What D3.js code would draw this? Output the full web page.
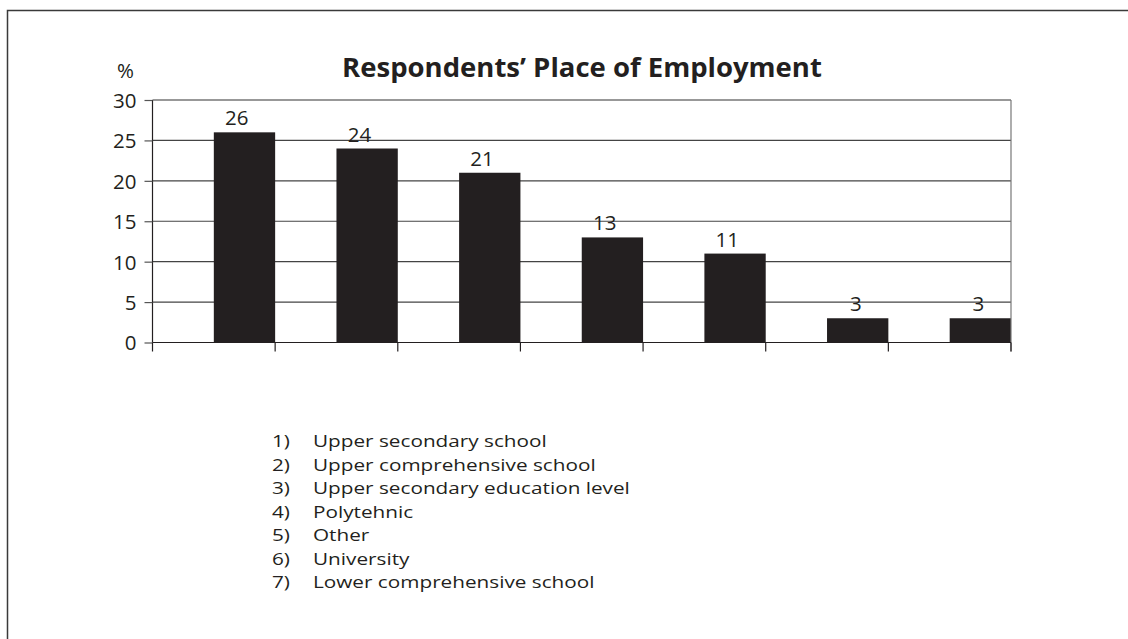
<!DOCTYPE html>
<html>
<head>
<meta charset="utf-8">
<script src="https://cdn.jsdelivr.net/npm/d3@7"></script>
<style>
  html, body { margin: 0; padding: 0; background: #fff; }
  svg { display: block; }
  text { font-family: "Open Sans", "Noto Sans", sans-serif; fill: #231f20; }
</style>
</head>
<body>
<svg id="chart" width="1128" height="639"></svg>
<script>
const categories = ["1", "2", "3", "4", "5", "6", "7"];
const values = [26, 24, 21, 13, 11, 3, 3];
const yTicks = [0, 5, 10, 15, 20, 25, 30];
const legendLabels = [
  "Upper secondary school",
  "Upper comprehensive school",
  "Upper secondary education level",
  "Polytehnic",
  "Other",
  "University",
  "Lower comprehensive school"
];
const title = "Respondents\u2019 Place of Employment";
const yUnit = "%";

const svg = d3.select("#chart");
const W = 1128, H = 639;
const plot = { left: 152.5, right: 1011, top: 100, bottom: 342.5 };
const FS = 20.5;

// outer frame
svg.append("rect")
  .attr("x", 7.5).attr("y", 10.5)
  .attr("width", W + 10).attr("height", H + 10)
  .attr("fill", "none").attr("stroke", "#3a3a3a").attr("stroke-width", 1.5);

const x = d3.scaleBand().domain(categories).range([plot.left, plot.right]).padding(0);
const y = d3.scaleLinear().domain([0, 30]).range([plot.bottom, plot.top]);

// gridlines
svg.append("g").selectAll("line")
  .data(yTicks.filter(t => t > 0 && t < 30))
  .join("line")
  .attr("x1", plot.left).attr("x2", plot.right)
  .attr("y1", d => y(d)).attr("y2", d => y(d))
  .attr("stroke", "#444").attr("stroke-width", 1.2);

// top border of plot
svg.append("line")
  .attr("x1", plot.left).attr("x2", plot.right)
  .attr("y1", y(30)).attr("y2", y(30))
  .attr("stroke", "#333").attr("stroke-width", 1.2);

// bars (right half of each band)
svg.append("g").selectAll("rect")
  .data(values)
  .join("rect")
  .attr("x", (d, i) => x(categories[i]) + x.bandwidth() / 2)
  .attr("y", d => y(d))
  .attr("width", x.bandwidth() / 2)
  .attr("height", d => y(0) - y(d))
  .attr("fill", "#231f20");

svg.append("line")
  .attr("x1", plot.right).attr("x2", plot.right)
  .attr("y1", y(30)).attr("y2", plot.bottom + 9)
  .attr("stroke", "#777").attr("stroke-width", 1.2);

// y axis
const yAxis = d3.axisLeft(y).tickValues(yTicks).tickSize(8).tickPadding(8);
const gy = svg.append("g").attr("transform", `translate(${plot.left},0)`).call(yAxis);
gy.attr("font-size", null).attr("font-family", null);
gy.select(".domain").attr("stroke", "#231f20").attr("stroke-width", 1.2).attr("d", `M0,${plot.top}V${plot.bottom}`);
gy.selectAll(".tick line").attr("stroke", "#555").attr("stroke-width", 1.2);
gy.selectAll(".tick text").style("font-size", FS + "px").attr("fill", "#231f20")
  .style("font-family", "'Open Sans', sans-serif").attr("dy", "0.36em");

// x axis: ticks at band boundaries, no labels
const xBounds = categories.map(c => x(c)).concat([plot.right]);
const gx = svg.append("g");
gx.append("line")
  .attr("x1", plot.left).attr("x2", plot.right)
  .attr("y1", y(0)).attr("y2", y(0))
  .attr("stroke", "#231f20").attr("stroke-width", 1.2);
gx.selectAll("line.t").data(xBounds).join("line").attr("class", "t")
  .attr("x1", d => d).attr("x2", d => d)
  .attr("y1", y(0)).attr("y2", y(0) + 9)
  .attr("stroke", "#231f20").attr("stroke-width", 1.2);

// value labels
svg.append("g").selectAll("text")
  .data(values)
  .join("text")
  .attr("x", (d, i) => x(categories[i]) + x.bandwidth() * 0.75 + 4)
  .attr("y", d => y(d) - 7)
  .attr("text-anchor", "end")
  .style("font-size", FS + "px")
  .text(d => d);

// unit label
svg.append("text")
  .attr("x", 134).attr("y", 78)
  .attr("text-anchor", "end")
  .style("font-size", FS + "px")
  .text(yUnit);

// title
svg.append("text")
  .attr("x", 582).attr("y", 77)
  .attr("text-anchor", "middle")
  .style("font-size", "27.5px")
  .attr("font-weight", "bold")
  .text(title);

// legend (slightly condensed height, widened glyphs to match the reference face)
const leg = svg.append("g");
legendLabels.forEach((lab, i) => {
  const yy = 447 + i * 23.5;
  leg.append("text").attr("transform", `translate(272,${yy}) scale(1.22,1)`)
    .style("font-size", "17px").text(`${i + 1})`);
  leg.append("text").attr("transform", `translate(313,${yy}) scale(1.22,1)`)
    .style("font-size", "17px").text(lab);
});
</script>
</body>
</html>
